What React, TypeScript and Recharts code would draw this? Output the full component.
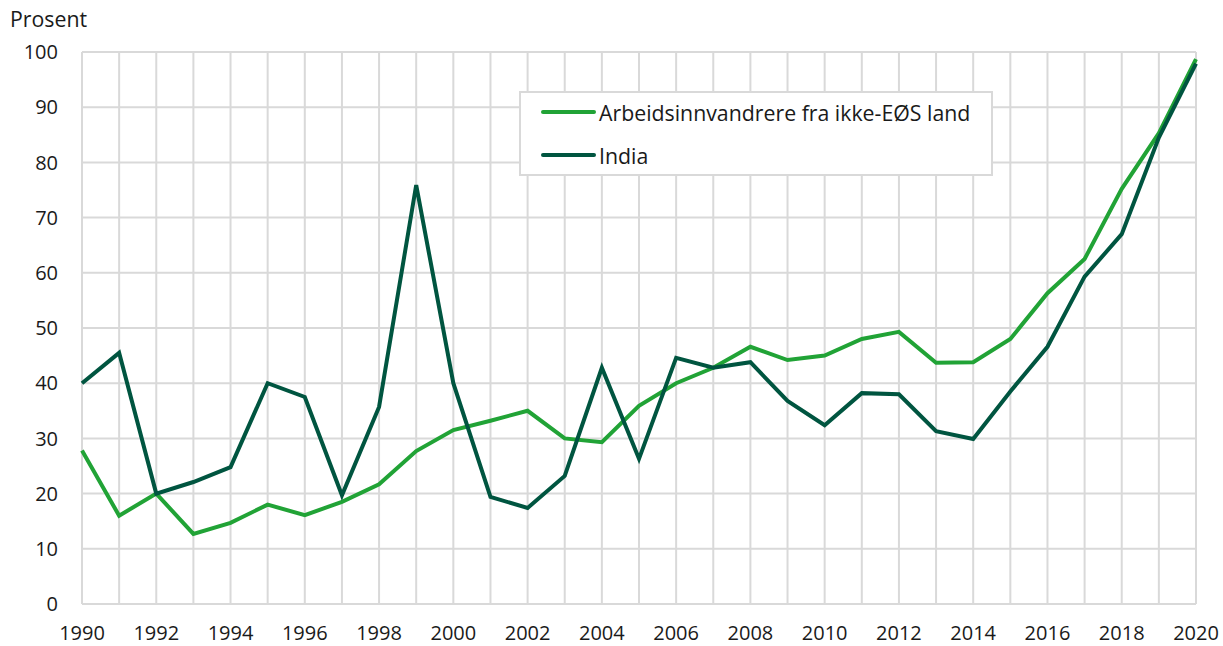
import React from "react";
import { LineChart, Line, XAxis, YAxis, CartesianGrid, Legend } from "recharts";

const years = [1990,1991,1992,1993,1994,1995,1996,1997,1998,1999,2000,2001,2002,2003,2004,2005,2006,2007,2008,2009,2010,2011,2012,2013,2014,2015,2016,2017,2018,2019,2020];
const arbeids = [27.8,16,20,12.7,14.7,18,16.1,18.5,21.7,27.7,31.5,33.2,35,30,29.3,35.9,40,42.8,46.6,44.2,45,48,49.3,43.7,43.8,48,56.3,62.5,75.2,85.3,98.7];
const india = [40,45.5,20,22.1,24.8,40,37.5,19.7,35.7,75.9,40,19.4,17.4,23.2,42.8,26.3,44.6,42.8,43.8,36.8,32.4,38.2,38,31.3,29.9,38.5,46.6,59.3,67,84.5,97.9];
const yTicks = [0,10,20,30,40,50,60,70,80,90,100];
const seriesNames = ["Arbeidsinnvandrere fra ikke-EØS land", "India"];
const colors = ["#21a336", "#005540"];

const data = years.map((y, i) => ({ year: y, a: arbeids[i], b: india[i] }));

const FONT = "'Open Sans', sans-serif";

const LegendBox = () => (
  <div style={{ border: "2px solid #d9d9d9", background: "#fff", width: 474, height: 85, boxSizing: "border-box", fontFamily: FONT, fontSize: 21.3, color: "#1a1a1a", position: "relative" }}>
    {seriesNames.map((n, i) => (
      <div key={n} style={{ position: "absolute", left: 20, top: i === 0 ? 5 : 48, display: "flex", alignItems: "center", height: 28 }}>
        <div style={{ width: 55, height: 4, borderRadius: 2, background: colors[i], marginRight: 3 }} />
        <span>{n}</span>
      </div>
    ))}
  </div>
);

export default function App() {
  return (
    <div style={{ position: "absolute", left: 0, top: 0, width: 1223, height: 646, background: "#fff" }}>
      <div style={{ position: "absolute", left: 10, top: 4, fontFamily: FONT, fontSize: 21.3, color: "#1a1a1a" }}>Prosent</div>
      <LineChart width={1223} height={646} data={data} margin={{ top: 52, right: 27, bottom: 0, left: 0 }}>
        <CartesianGrid stroke="#d9d9d9" strokeWidth={2} />
        <XAxis
          dataKey="year"
          type="number"
          domain={[1990, 2020]}
          ticks={years}
          interval={0}
          tickFormatter={(v: number) => (v % 2 === 0 ? String(v) : "")}
          axisLine={false}
          tickLine={false}
          tickSize={0}
          tickMargin={22}
          height={42}
          tick={{ fontFamily: FONT, fontSize: 20, fill: "#1a1a1a" }}
        />
        <YAxis
          domain={[0, 100]}
          ticks={yTicks}
          interval={0}
          axisLine={false}
          tickLine={false}
          tickSize={0}
          tickMargin={24}
          width={82}
          tick={{ fontFamily: FONT, fontSize: 20, fill: "#1a1a1a" }}
        />
        <Legend layout="vertical" align="center" verticalAlign="middle" content={<LegendBox />} wrapperStyle={{ left: 519, top: 91, width: 474, height: 85 }} />
        <Line dataKey="a" name={seriesNames[0]} stroke={colors[0]} strokeWidth={4} dot={false} isAnimationActive={false} />
        <Line dataKey="b" name={seriesNames[1]} stroke={colors[1]} strokeWidth={4} dot={false} isAnimationActive={false} />
      </LineChart>
    </div>
  );
}
